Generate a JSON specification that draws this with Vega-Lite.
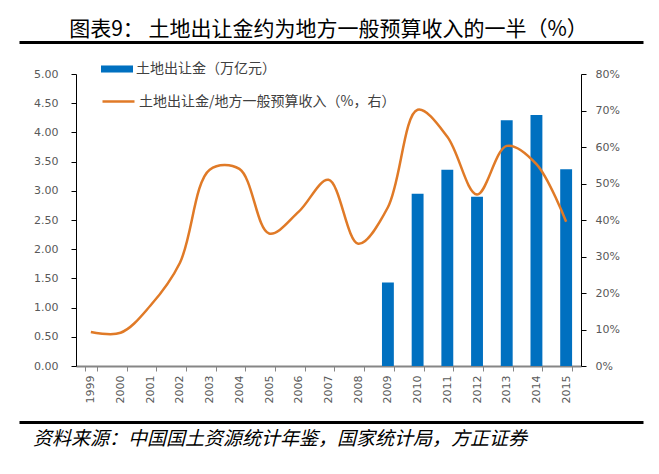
{
  "$schema": "https://vega.github.io/schema/vega-lite/v6.json",
  "background": "white",
  "padding": {"left": 16, "top": 18, "right": 0, "bottom": 20},
  "spacing": 32,
  "bounds": "flush",
  "config": {"view": {"stroke": null}, "font": "Noto Sans CJK SC"},
  "datasets": {
    "land": [
      {"year": "1999", "land": null, "pct": 9.3},
      {"year": "2000", "land": null, "pct": 9.1},
      {"year": "2001", "land": null, "pct": 16.5},
      {"year": "2002", "land": null, "pct": 28.3},
      {"year": "2003", "land": null, "pct": 53.8},
      {"year": "2004", "land": null, "pct": 54.0},
      {"year": "2005", "land": null, "pct": 36.3},
      {"year": "2006", "land": null, "pct": 42.3},
      {"year": "2007", "land": null, "pct": 51.0},
      {"year": "2008", "land": null, "pct": 33.5},
      {"year": "2009", "land": 1.43, "pct": 43.5},
      {"year": "2010", "land": 2.95, "pct": 70.2},
      {"year": "2011", "land": 3.36, "pct": 62.8},
      {"year": "2012", "land": 2.90, "pct": 47.0},
      {"year": "2013", "land": 4.21, "pct": 60.3},
      {"year": "2014", "land": 4.30, "pct": 55.3},
      {"year": "2015", "land": 3.37, "pct": 39.5}
    ]
  },
  "vconcat": [
    {
      "width": 505,
      "height": 1,
      "data": {"values": [{}]},
      "title": {
        "text": "图表9：  土地出让金约为地方一般预算收入的一半（%）",
        "fontSize": 21,
        "fontWeight": "normal",
        "color": "#000000",
        "anchor": "middle",
        "frame": "group",
        "offset": -1,
        "font": "Noto Sans CJK SC"
      },
      "mark": {"type": "point", "opacity": 0},
      "encoding": {
        "x": {
          "datum": 0,
          "type": "quantitative",
          "scale": {"domain": [0, 1], "range": [-57, 567]},
          "axis": {"orient": "bottom", "domainColor": "#000000", "domainWidth": 3, "ticks": false, "labels": false, "grid": false, "title": null}
        }
      }
    },
    {
      "width": 505,
      "height": 292,
      "data": {"name": "land"},
      "layer": [
        {
          "mark": {"type": "bar", "color": "#0070C0"},
          "encoding": {
            "x": {
              "field": "year",
              "type": "ordinal",
              "scale": {"paddingInner": 0.6},
              "axis": {
                "labelAngle": -90,
                "tickBand": "extent",
                "domainColor": "#868686",
                "domainWidth": 2,
                "tickColor": "#868686",
                "tickSize": 5,
                "labelPadding": 4,
                "labelFont": "DejaVu Sans",
                "labelFontSize": 11,
                "labelColor": "#595959",
                "grid": false,
                "title": null
              }
            },
            "y": {
              "field": "land",
              "type": "quantitative",
              "scale": {"domain": [0, 5], "nice": false},
              "axis": {
                "orient": "left",
                "values": [0, 0.5, 1, 1.5, 2, 2.5, 3, 3.5, 4, 4.5, 5],
                "format": ".2f",
                "domainColor": "#000000",
                "tickColor": "#000000",
                "tickSize": 5,
                "labelPadding": 13,
                "labelFont": "DejaVu Sans",
                "labelFontSize": 11,
                "labelColor": "#595959",
                "grid": false,
                "title": null
              }
            },
            "fill": {
              "datum": "土地出让金（万亿元）",
              "type": "nominal",
              "scale": {"range": ["#0070C0"]},
              "legend": {
                "orient": "none",
                "legendX": 25,
                "legendY": 12,
                "title": null,
                "padding": 0,
                "symbolType": "M-1,-0.22H1V0.22H-1Z",
                "symbolSize": 1024,
                "symbolStrokeWidth": 0,
                "labelFont": "Noto Sans CJK SC",
                "labelFontSize": 14,
                "labelColor": "#404040",
                "labelOffset": 3,
                "labelLimit": 400
              }
            }
          }
        },
        {
          "mark": {"type": "line", "interpolate": "catmull-rom", "strokeWidth": 2.5},
          "encoding": {
            "x": {"field": "year", "type": "ordinal"},
            "y": {
              "field": "pct",
              "type": "quantitative",
              "scale": {"domain": [0, 80], "nice": false},
              "axis": {
                "orient": "right",
                "values": [0, 10, 20, 30, 40, 50, 60, 70, 80],
                "labelExpr": "datum.value + '%'",
                "domainColor": "#000000",
                "tickColor": "#000000",
                "tickSize": 5,
                "labelPadding": 9,
                "labelFont": "DejaVu Sans",
                "labelFontSize": 11,
                "labelColor": "#595959",
                "grid": false,
                "title": null
              }
            },
            "stroke": {
              "datum": "土地出让金/地方一般预算收入（%，右）",
              "type": "nominal",
              "scale": {"range": ["#E07A27"]},
              "legend": {
                "orient": "none",
                "legendX": 25,
                "legendY": 43,
                "title": null,
                "padding": 0,
                "symbolType": "stroke",
                "symbolSize": 1024,
                "symbolStrokeWidth": 2.5,
                "labelFont": "Noto Sans CJK SC",
                "labelFontSize": 14,
                "labelColor": "#404040",
                "labelOffset": 3,
                "labelLimit": 400
              }
            }
          }
        }
      ],
      "resolve": {"scale": {"y": "independent"}}
    },
    {
      "width": 505,
      "height": 24,
      "data": {"values": [{}]},
      "title": {
        "text": "资料来源：中国国土资源统计年鉴，国家统计局，方正证券",
        "orient": "bottom",
        "anchor": "start",
        "frame": "group",
        "dx": -43,
        "offset": 8,
        "fontSize": 19,
        "fontStyle": "italic",
        "fontWeight": "normal",
        "color": "#000000",
        "font": "Noto Sans CJK SC"
      },
      "mark": {"type": "point", "opacity": 0},
      "encoding": {
        "x": {
          "datum": 0,
          "type": "quantitative",
          "scale": {"domain": [0, 1], "range": [-57, 567]},
          "axis": {"orient": "bottom", "domainColor": "#000000", "domainWidth": 3, "ticks": false, "labels": false, "grid": false, "title": null}
        }
      }
    }
  ]
}
